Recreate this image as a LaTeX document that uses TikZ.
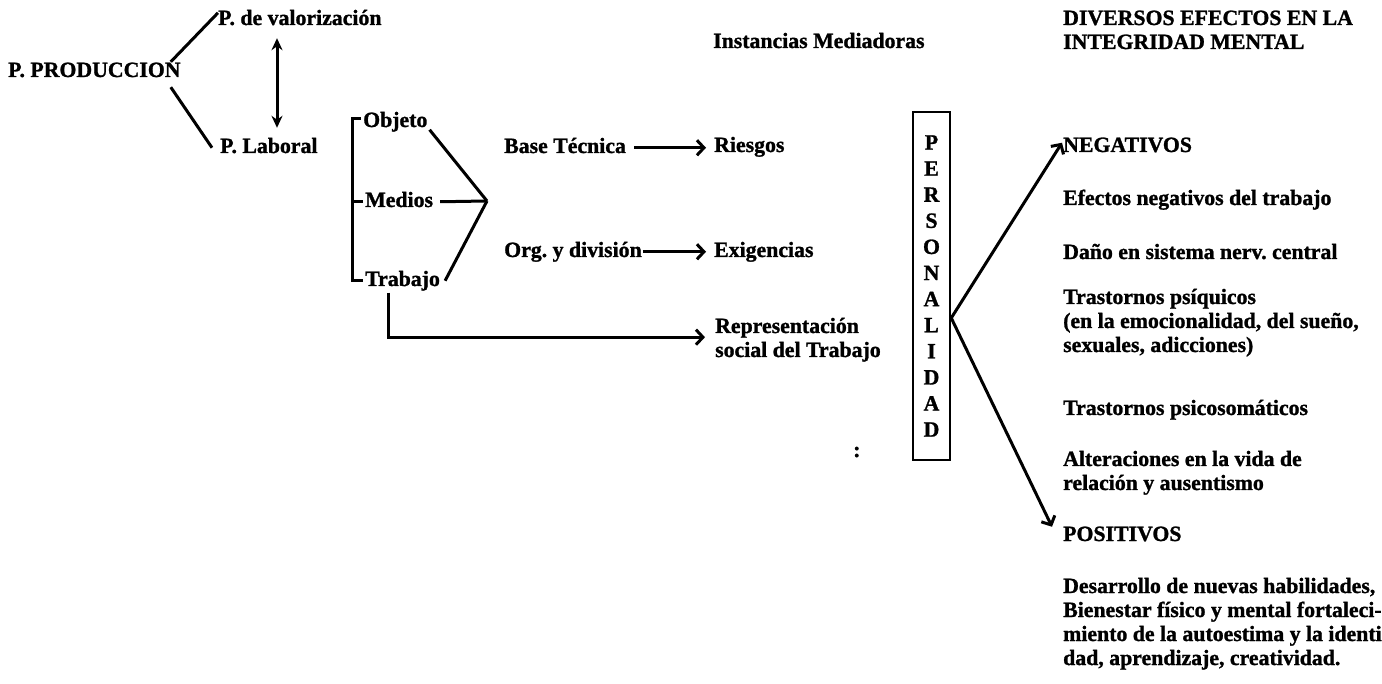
\documentclass[tikz,border=0pt]{standalone}
\usepackage{fontspec}
\setmainfont{Liberation Serif}[BoldFeatures={FakeBold=1.2}]
\usetikzlibrary{arrows.meta}
\newcommand\mlines[1]{\begin{tabular}[t]{@{}l@{}}#1\end{tabular}}
\frenchspacing
\begin{document}
\begin{tikzpicture}[x=1pt,y=-1pt,
  every node/.style={inner sep=0pt, font=\fontsize{21.8}{24}\selectfont\bfseries},
  txt/.style={anchor=base west, text height=15pt, text depth=4.5pt},
  blk/.style={anchor=base west},
  ln/.style={line width=3pt},
  arr/.style={ln, -{Straight Barb[length=7pt,width=15pt]}},
  darr/.style={ln, {Stealth[length=12pt,width=11pt]}-{Stealth[length=12pt,width=11pt]}},
  persbox/.style={draw, line width=2.5pt, minimum width=37pt, minimum height=348pt,
    align=center, font=\fontsize{21.8}{26.1}\selectfont\bfseries}
]
\useasboundingbox (0,0) rectangle (1382,684);

% left part
\node[txt] (prod) at (8,77) {P. PRODUCCION};
\node[txt] (valor) at (218,25) {P. de valorización};
\node[txt] (lab) at (220,153) {P. Laboral};
\node[txt] (obj) at (363,127) {Objeto};
\node[txt] (med) at (365,207) {Medios};
\node[txt] (trab) at (365,286) {Trabajo};
\node[txt] (bt) at (504,153) {Base Técnica};
\node[txt] (org) at (504,257) {Org. y división};
\node[txt] (ries) at (714,152) {Riesgos};
\node[txt] (exig) at (714,257) {Exigencias};
\node[blk] (rep) at (715,333) {\mlines{Representación\\social del Trabajo}};
\node[txt] (inst) at (713,48) {Instancias Mediadoras};
\node[persbox] (pers) at (931.5,286) {P\\E\\R\\S\\O\\N\\A\\L\\I\\D\\A\\D};
\node[txt] (colon) at (853,457) {:};

% right column
\node[blk] (head) at (1063,25) {\mlines{DIVERSOS EFECTOS EN LA\\INTEGRIDAD MENTAL}};
\node[txt] (neg) at (1063,152) {NEGATIVOS};
\node[txt] (e1) at (1063,205) {Efectos negativos del trabajo};
\node[txt] (e2) at (1063,259) {Daño en sistema nerv. central};
\node[blk] (e3) at (1063,304) {\mlines{Trastornos psíquicos\\(en la emocionalidad, del sueño,\\sexuales, adicciones)}};
\node[txt] (e4) at (1063,415) {Trastornos psicosomáticos};
\node[blk] (e5) at (1063,466) {\mlines{Alteraciones en la vida de\\relación y ausentismo}};
\node[txt] (pos) at (1063,541) {POSITIVOS};
\node[blk] (p1) at (1063,593) {\mlines{Desarrollo de nuevas habilidades,\\Bienestar físico y mental fortaleci-\\miento de la autoestima y la identi\\dad, aprendizaje, creatividad.}};

% connectors
\draw[ln] ([xshift=-10pt]prod.north east) -- ([yshift=-3pt]valor.north west);
\draw[ln] ([xshift=-10pt,yshift=-5.5pt]prod.south east) -- ([xshift=-8pt]lab.west);
\draw[darr] ([xshift=59pt,yshift=-8.5pt]valor.south west) -- ([xshift=57pt,yshift=10pt]lab.north west);

\draw[ln] ([xshift=-2pt,yshift=3pt]obj.west) -- ++(-9,0) |- ([xshift=-2pt]trab.west);
\draw[ln] ([xshift=-2pt]med.west) -- ++(-11,0);

\coordinate (conv) at (487,201);
\draw[ln] ([xshift=2pt,yshift=-8pt]obj.east) -- (conv);
\draw[ln] ([xshift=7pt]med.east) -- (conv);
\draw[ln] ([xshift=5pt]trab.east) -- (conv);

\draw[arr] ([xshift=23pt,yshift=-2pt]trab.south west) |- ([xshift=-10pt,yshift=3pt]rep.west);
\draw[arr] ([xshift=8pt]bt.east) -- ([xshift=-8pt]bt.east -| ries.west);
\draw[arr] ([xshift=1pt]org.east) -- ([xshift=-8pt]org.east -| exig.west);

\coordinate (apex) at ([yshift=-32pt]pers.east);
\draw[arr] (apex) -- ([xshift=-1pt,yshift=4pt]neg.west);
\draw[arr] (apex) -- ([xshift=-11pt,yshift=9pt]pos.west);
\end{tikzpicture}
\end{document}
